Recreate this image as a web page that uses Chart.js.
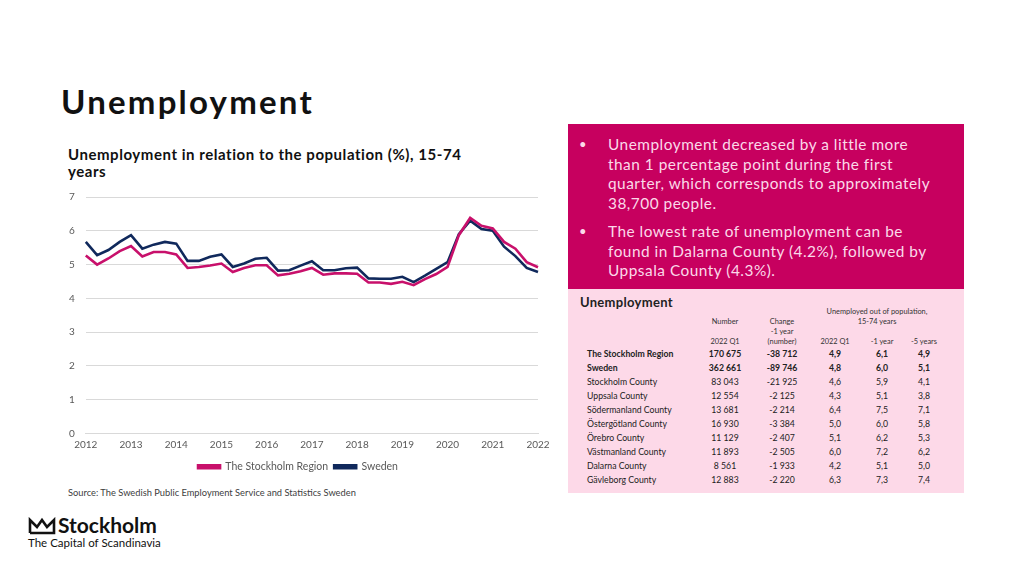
<!DOCTYPE html>
<html>
<head>
<meta charset="utf-8">
<script src="https://cdn.jsdelivr.net/npm/chart.js@4"></script>
<style>
  body { margin: 0; width: 1024px; height: 576px; background: #fff; font-family: Lato, "Open Sans", sans-serif; position: relative; overflow: hidden; }
  .abs { position: absolute; }
  #title { left: 61px; top: 81px; font-size: 33px; font-weight: 700; color: #111; letter-spacing: 2.2px; }
  #subtitle { left: 68px; top: 146px; width: 420px; font-size: 15px; font-weight: 700; color: #111; line-height: 17px; letter-spacing: 0.55px; }
  #chartBox { left: 50px; top: 180px; width: 510px; height: 302px; }
  #source { left: 68px; top: 487px; font-size: 9.3px; color: #404040; }
  #facts { left: 568px; top: 124px; width: 396px; height: 165px; background: #c7005f; color: #fbd9e9; font-size: 15.4px; line-height: 19.5px; letter-spacing: 0.5px; }
  #facts ul { margin: 0; padding: 11px 0 0 0; list-style: none; }
  #facts li { margin-bottom: 9px; padding-left: 40px; width: 334px; position: relative; }
  #facts li::before { content: '•'; position: absolute; left: 11px; top: 0; font-size: 13px; }
  #tableBox { left: 568px; top: 289px; width: 396px; height: 204px; background: #fdd9e8; color: #222; }
  #tableBox h3 { margin: 0; position: absolute; left: 12px; top: 5px; font-size: 13px; font-weight: 700; letter-spacing: 0.3px; }
  table { position: absolute; left: 19px; top: 17px; border-collapse: collapse; font-size: 8.7px; }
  td { padding: 0; height: 14px; text-align: center; }
  td.name { text-align: left; width: 107px; }
  td.c1 { width: 62px; } td.c2 { width: 52px; } td.c3 { width: 54px; } td.c4 { width: 40px; } td.c5 { width: 44px; }
  tr.hd td { font-size: 7.4px; height: 10px; color: #333; }
  tr.b td { font-weight: 700; }
  #logo { left: 28px; top: 514px; color: #111; }
</style>
</head>
<body>
<div id="title" class="abs">Unemployment</div>
<div id="subtitle" class="abs">Unemployment in relation to the population (%), 15-74 years</div>
<div id="chartBox" class="abs"><canvas id="myChart"></canvas></div>
<div id="source" class="abs">Source: The Swedish Public Employment Service and Statistics Sweden</div>

<div id="facts" class="abs">
  <ul>
    <li>Unemployment decreased by a little more than 1 percentage point during the first quarter, which corresponds to approximately 38,700 people.</li>
    <li>The lowest rate of unemployment can be found in Dalarna County (4.2%), followed by Uppsala County (4.3%).</li>
  </ul>
</div>

<div id="tableBox" class="abs">
  <h3>Unemployment</h3>
  <table id="tbl"></table>
</div>

<div id="logo" class="abs">
  <svg width="28" height="18" viewBox="0 0 28 18" style="position:absolute;left:0;top:3px">
    <polyline points="2,16 2,3 9,10 14,3 19,10 26,3 26,16 2,16" fill="none" stroke="#111" stroke-width="2.6" stroke-linejoin="miter"/>
  </svg>
  <div class="abs" style="left:30px;top:-2px;font-size:21px;font-weight:700;white-space:nowrap">Stockholm</div>
  <div class="abs" style="left:0;top:22px;font-size:11.5px;white-space:nowrap">The Capital of Scandinavia</div>
</div>

<script>
// Kvartal (x-axeln)
var kvartal = [
  '2012 Q1','2012 Q2','2012 Q3','2012 Q4',
  '2013 Q1','2013 Q2','2013 Q3','2013 Q4',
  '2014 Q1','2014 Q2','2014 Q3','2014 Q4',
  '2015 Q1','2015 Q2','2015 Q3','2015 Q4',
  '2016 Q1','2016 Q2','2016 Q3','2016 Q4',
  '2017 Q1','2017 Q2','2017 Q3','2017 Q4',
  '2018 Q1','2018 Q2','2018 Q3','2018 Q4',
  '2019 Q1','2019 Q2','2019 Q3','2019 Q4',
  '2020 Q1','2020 Q2','2020 Q3','2020 Q4',
  '2021 Q1','2021 Q2','2021 Q3','2021 Q4',
  '2022 Q1'
];

// Stockholmsregionen (%)
var stockholmRegion = [
  5.27, 5.00, 5.18, 5.40, 5.55, 5.24, 5.37, 5.37, 5.30, 4.90,
  4.93, 4.97, 5.03, 4.78, 4.90, 4.98, 4.98, 4.68, 4.73, 4.80,
  4.90, 4.70, 4.74, 4.74, 4.73, 4.47, 4.47, 4.43, 4.49, 4.39,
  4.57, 4.72, 4.93, 5.87, 6.38, 6.15, 6.07, 5.67, 5.47, 5.07,
  4.92
];

// Sverige (%)
var sverige = [
  5.67, 5.28, 5.43, 5.67, 5.87, 5.47, 5.59, 5.67, 5.62, 5.11,
  5.11, 5.23, 5.30, 4.93, 5.03, 5.17, 5.20, 4.82, 4.83, 4.97,
  5.10, 4.83, 4.83, 4.89, 4.91, 4.59, 4.58, 4.58, 4.64, 4.48,
  4.67, 4.87, 5.07, 5.90, 6.30, 6.05, 6.00, 5.53, 5.25, 4.90,
  4.78
];

var yTicks = [0, 1, 2, 3, 4, 5, 6, 7];

// Tabell
var tabellRader = [
  'The Stockholm Region', 'Sweden', 'Stockholm County', 'Uppsala County',
  'Södermanland County', 'Östergötland County', 'Örebro County',
  'Västmanland County', 'Dalarna County', 'Gävleborg County'
];
var antal = ['170 675', '362 661', '83 043', '12 554', '13 681', '16 930', '11 129', '11 893', '8 561', '12 883'];
var forandring = ['-38 712', '-89 746', '-21 925', '-2 125', '-2 214', '-3 384', '-2 407', '-2 505', '-1 933', '-2 220'];
var andel2022 = ['4,9', '4,8', '4,6', '4,3', '6,4', '5,0', '5,1', '6,0', '4,2', '6,3'];
var andel1ar = ['6,1', '6,0', '5,9', '5,1', '7,5', '6,0', '6,2', '7,2', '5,1', '7,3'];
var andel5ar = ['4,9', '5,1', '4,1', '3,8', '7,1', '5,8', '5,3', '6,2', '5,0', '7,4'];

// Bygg tabellen
var html = '';
html += '<tr class="hd"><td class="name"></td><td class="c1"></td><td class="c2"></td><td colspan="3" style="height:9px">Unemployed out of population,</td></tr>';
html += '<tr class="hd"><td class="name"></td><td class="c1">Number</td><td class="c2">Change</td><td colspan="3">15-74 years</td></tr>';
html += '<tr class="hd"><td class="name"></td><td class="c1"></td><td class="c2">-1 year</td><td colspan="3"></td></tr>';
html += '<tr class="hd"><td class="name"></td><td class="c1">2022 Q1</td><td class="c2">(number)</td><td class="c3">2022 Q1</td><td class="c4">-1 year</td><td class="c5">-5 years</td></tr>';
tabellRader.forEach(function (namn, i) {
  html += '<tr' + (i < 2 ? ' class="b"' : '') + '><td class="name">' + namn + '</td><td class="c1">' + antal[i] +
    '</td><td class="c2">' + forandring[i] + '</td><td class="c3">' + andel2022[i] + '</td><td class="c4">' +
    andel1ar[i] + '</td><td class="c5">' + andel5ar[i] + '</td></tr>';
});
document.getElementById('tbl').innerHTML = html;

// Diagram
var ctx = document.getElementById('myChart').getContext('2d');
var myChart = new Chart(ctx, {
  type: 'line',
  data: {
    labels: kvartal,
    datasets: [{
      label: 'The Stockholm Region',
      data: stockholmRegion,
      borderColor: '#c8106b',
      backgroundColor: '#c8106b',
      borderWidth: 2.6,
      pointRadius: 0,
      tension: 0
    }, {
      label: 'Sweden',
      data: sverige,
      borderColor: '#10295c',
      backgroundColor: '#10295c',
      borderWidth: 2.6,
      pointRadius: 0,
      tension: 0
    }]
  },
  options: {
    responsive: true,
    maintainAspectRatio: false,
    animation: false,
    layout: { padding: { left: 8, right: 22, top: 1, bottom: 0 } },
    scales: {
      x: {
        offset: false,
        grid: { display: false, drawTicks: false },
        border: { color: '#d9d9d9' },
        ticks: {
          autoSkip: false,
          maxRotation: 0,
          color: '#595959',
          font: { family: 'Lato', size: 10 },
          padding: 5,
          callback: function (v, i) {
            var l = kvartal[i];
            return l.slice(-2) === 'Q1' ? l.slice(0, 4) : '';
          }
        }
      },
      y: {
        min: 0,
        max: 7,
        afterBuildTicks: function (axis) {
          axis.ticks = yTicks.map(function (v) { return { value: v }; });
        },
        grid: { color: '#d9d9d9', lineWidth: 1, drawTicks: false },
        border: { display: false },
        ticks: {
          color: '#595959',
          font: { family: 'Lato', size: 10 },
          padding: 11
        }
      }
    },
    plugins: {
      legend: {
        position: 'bottom',
        labels: {
          boxWidth: 22,
          boxHeight: 3,
          color: '#595959',
          font: { family: 'Lato', size: 10.5 },
          padding: 6
        }
      },
      tooltip: { enabled: false }
    }
  }
});
</script>
</body>
</html>
